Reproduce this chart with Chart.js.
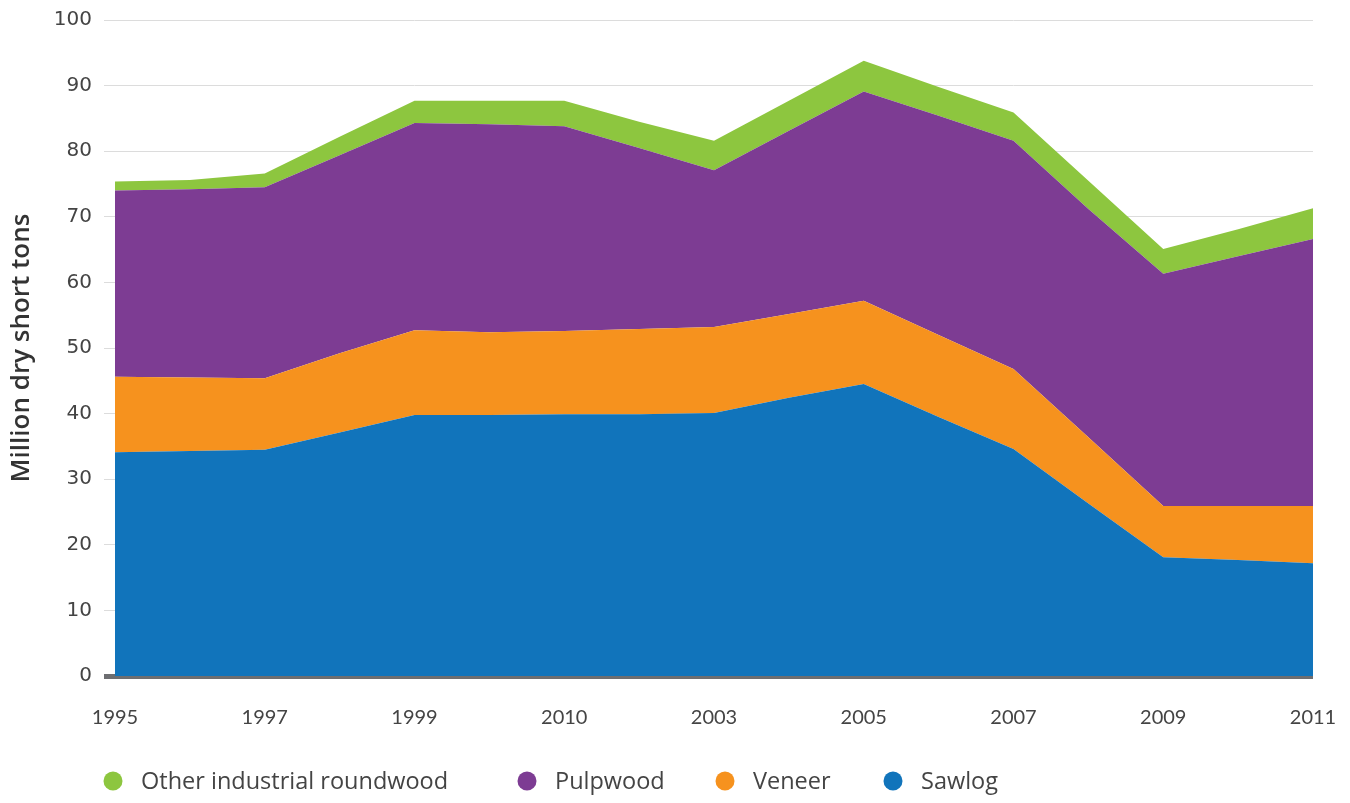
<!DOCTYPE html>
<html>
<head>
<meta charset="utf-8">
<title>Industrial roundwood output</title>
<script src="https://cdn.jsdelivr.net/npm/chart.js@4.4.1/dist/chart.umd.min.js"></script>
<style>
  html, body { margin: 0; padding: 0; background: #fff; }
  #wrap { width: 1350px; height: 803px; position: relative; }
</style>
</head>
<body>
<div id="wrap"><canvas id="chart"></canvas></div>
<script>
// yearly output, million dry short tons
const years = [1995, 1996, 1997, 1998, 1999, 2000, 2001, 2002, 2003,
               2004, 2005, 2006, 2007, 2008, 2009, 2010, 2011];
// axis labels as printed (every other year)
const tickLabels = ['1995', '1997', '1999', '2010', '2003', '2005', '2007', '2009', '2011'];

const sawlog   = [34.1, 34.3, 34.5, 37.1, 39.8, 39.8, 39.9, 39.9, 40.1, 42.4, 44.5, 39.5, 34.6, 26.3, 18.1, 17.7, 17.2];
const veneer   = [11.5, 11.2, 10.9, 12.1, 12.9, 12.6, 12.7, 13.0, 13.1, 12.8, 12.7, 12.5, 12.2, 10.1, 7.8, 8.2, 8.7];
const pulpwood = [28.4, 28.7, 29.1, 30.2, 31.6, 31.7, 31.2, 27.6, 23.9, 27.9, 31.9, 33.4, 34.8, 34.8, 35.4, 38.1, 40.7];
const otherRoundwood = [1.4, 1.4, 2.1, 2.8, 3.4, 3.6, 3.9, 4.0, 4.5, 4.6, 4.7, 4.4, 4.3, 4.3, 3.8, 4.1, 4.7];

const colors = {
  sawlog: '#1174bb',
  veneer: '#f6921e',
  pulpwood: '#7d3c93',
  other: '#8dc63f',
  grid: '#dcdcdc',
  baseline: '#6d6e71',
  text: '#444444'
};

// legend drawn along the bottom, top series first
const legendOrder = [3, 2, 1, 0];
const legendCenters = [113, 527, 725, 893];

const bottomLegend = {
  id: 'bottomLegend',
  afterDraw(chart) {
    const ctx = chart.ctx;
    const y = 782;
    ctx.save();
    ctx.font = '23.5px "Open Sans", sans-serif';
    ctx.textBaseline = 'middle';
    ctx.textAlign = 'left';
    legendOrder.forEach((di, i) => {
      const ds = chart.data.datasets[di];
      const cx = legendCenters[i];
      ctx.fillStyle = ds.backgroundColor;
      ctx.beginPath();
      ctx.arc(cx, y - 1, 9.5, 0, Math.PI * 2);
      ctx.fill();
      ctx.fillStyle = colors.text;
      ctx.fillText(ds.label, cx + 28, y);
    });
    ctx.restore();
  }
};

function areaSet(label, data, color, fill) {
  return {
    label,
    data,
    backgroundColor: color,
    borderColor: color,
    borderWidth: 0,
    pointRadius: 0,
    pointHoverRadius: 0,
    tension: 0,
    fill
  };
}

// let layout.padding alone decide the plot edges
function noEdgePadding(scale) {
  scale.paddingTop = 0;
  scale.paddingBottom = 0;
  scale.paddingLeft = 0;
  scale.paddingRight = 0;
}

new Chart(document.getElementById('chart'), {
  type: 'line',
  data: {
    labels: years,
    datasets: [
      areaSet('Sawlog', sawlog, colors.sawlog, 'origin'),
      areaSet('Veneer', veneer, colors.veneer, '-1'),
      areaSet('Pulpwood', pulpwood, colors.pulpwood, '-1'),
      areaSet('Other industrial roundwood', otherRoundwood, colors.other, '-1')
    ]
  },
  options: {
    responsive: true,
    maintainAspectRatio: false,
    animation: false,
    layout: { padding: { top: 20, right: 37, bottom: 43, left: 0 } },
    plugins: {
      legend: { display: false },
      tooltip: { enabled: false }
    },
    scales: {
      x: {
        offset: false,
        afterFit: noEdgePadding,
        grid: { display: false, drawTicks: false },
        border: { display: false },
        ticks: {
          autoSkip: false,
          maxRotation: 0,
          padding: 30,
          color: colors.text,
          font: { family: 'Lato, "Open Sans", sans-serif', size: 20 },
          callback: (value, index) => index % 2 === 0 ? tickLabels[index / 2] : ''
        }
      },
      y: {
        stacked: true,
        min: 0,
        max: 100,
        afterFit: (scale) => {
          noEdgePadding(scale);
          scale.width = 115;
        },
        grid: {
          color: (c) => c.tick && c.tick.value === 0 ? colors.baseline : colors.grid,
          lineWidth: (c) => c.tick && c.tick.value === 0 ? 5 : 1,
          tickLength: 11
        },
        border: { display: false },
        ticks: {
          stepSize: 10,
          padding: 12,
          color: colors.text,
          font: { family: '"DejaVu Sans", sans-serif', size: 20 }
        },
        title: {
          display: true,
          text: 'Million dry short tons',
          color: '#333333',
          padding: { top: 6, bottom: 0 },
          font: { family: '"Open Sans", sans-serif', size: 26, weight: '600' }
        }
      }
    }
  },
  plugins: [bottomLegend]
});
</script>
</body>
</html>
